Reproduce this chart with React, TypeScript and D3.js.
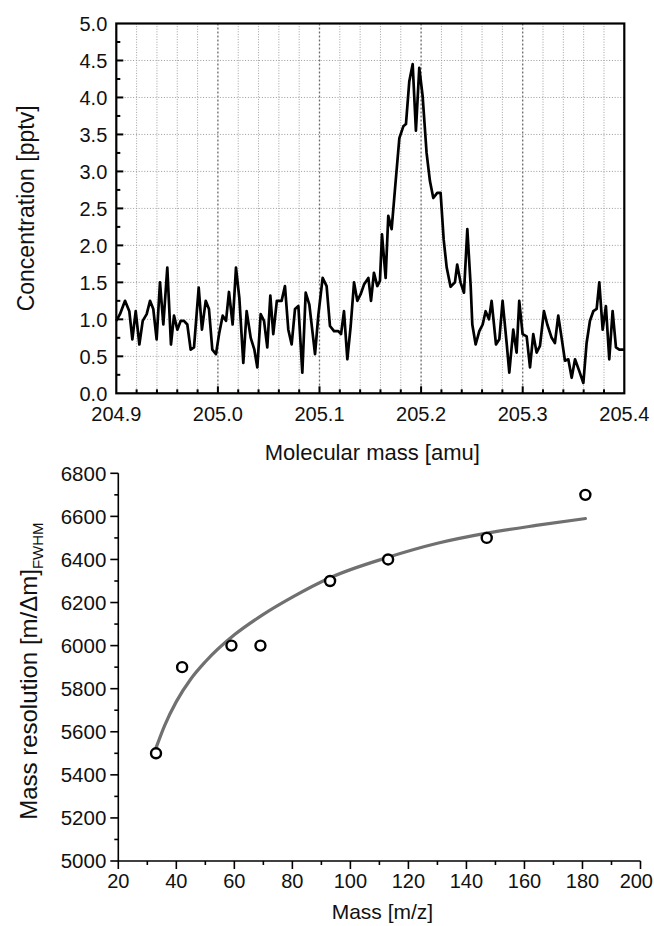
import React from "react";
import * as d3 from "d3";

// ---------- Top chart data (Molecular mass vs concentration) ----------
const massValues: number[] = [
  204.9, 204.9036, 204.9086, 204.9128, 204.9158, 204.9191, 204.9227, 204.926, 204.9299, 204.9332,
  204.9364, 204.9397, 204.943, 204.9463, 204.9502, 204.9538, 204.9568, 204.9601, 204.9634, 204.9666,
  204.9699, 204.9732, 204.9765, 204.9811, 204.9843, 204.988, 204.9912, 204.9945, 204.9981, 205.0014,
  205.0047, 205.008, 205.0109, 205.0145, 205.0178, 205.0211, 205.025, 205.0283, 205.0323, 205.0359,
  205.0388, 205.0421, 205.0454, 205.0486, 205.0516, 205.0545, 205.058, 205.0627, 205.066, 205.0693,
  205.0726, 205.0759, 205.0792, 205.0831, 205.0864, 205.09, 205.0956, 205.0988, 205.1031, 205.107,
  205.1103, 205.1143, 205.1185, 205.1212, 205.1241, 205.1274, 205.1307, 205.134, 205.1372, 205.1405,
  205.1438, 205.1481, 205.1507, 205.1536, 205.1569, 205.1595, 205.1615, 205.1651, 205.1677, 205.171,
  205.1743, 205.1786, 205.1825, 205.1851, 205.1884, 205.1917, 205.1949, 205.1982, 205.2015, 205.2054,
  205.2087, 205.212, 205.2159, 205.2192, 205.2222, 205.2252, 205.229, 205.2333, 205.2355, 205.2388,
  205.2422, 205.2455, 205.2488, 205.2504, 205.2537, 205.2573, 205.2606, 205.2635, 205.2668, 205.2694,
  205.2737, 205.277, 205.2802, 205.2842, 205.2868, 205.2907, 205.294, 205.2966, 205.2999, 205.3039,
  205.3072, 205.3104, 205.3137, 205.317, 205.3209, 205.3242, 205.3285, 205.3317, 205.335, 205.3383,
  205.3416, 205.3449, 205.3482, 205.3515, 205.3557, 205.3597, 205.3629, 205.3662, 205.3695, 205.3728,
  205.3754, 205.3787, 205.3819, 205.3852, 205.3885, 205.3918, 205.3951, 205.4,
];
const concValues: number[] = [
  0.98, 1.07, 1.25, 1.11, 0.73, 1.11, 0.66, 0.98, 1.07, 1.25,
  1.14, 0.73, 1.5, 0.93, 1.7, 0.66, 1.05, 0.86, 0.98, 0.98,
  0.93, 0.59, 0.62, 1.43, 0.86, 1.25, 1.14, 0.59, 0.53, 0.82,
  1.05, 0.98, 1.37, 0.93, 1.7, 1.29, 0.41, 1.11, 0.75, 0.59,
  0.35, 1.07, 0.98, 0.62, 1.32, 0.8, 1.25, 1.25, 1.45, 0.86,
  0.66, 1.14, 1.18, 0.28, 1.36, 1.2, 0.53, 1.05, 1.56, 1.45,
  0.91, 0.84, 0.84, 0.8, 1.11, 0.46, 0.91, 1.5, 1.25, 1.34,
  1.47, 1.56, 1.25, 1.63, 1.45, 1.52, 2.15, 1.56, 2.4, 2.22,
  2.76, 3.45, 3.61, 3.64, 4.22, 4.45, 3.55, 4.4, 4.02, 3.25,
  2.87, 2.64, 2.71, 2.71, 2.08, 1.7, 1.44, 1.5, 1.74, 1.5,
  1.36, 2.22, 1.45, 0.93, 0.66, 0.84, 0.93, 1.11, 1.0, 1.25,
  0.66, 0.73, 1.25, 0.68, 0.28, 0.86, 0.55, 1.25, 0.8, 0.77,
  0.35, 0.8, 0.55, 0.64, 1.11, 0.93, 0.75, 0.68, 1.05, 0.75,
  0.44, 0.46, 0.21, 0.46, 0.3, 0.14, 0.68, 0.98, 1.11, 1.14,
  1.5, 0.86, 1.18, 0.46, 1.11, 0.62, 0.59, 0.59,
];
const topXTicks: number[] = [204.9, 205.0, 205.1, 205.2, 205.3, 205.4];
const topYTicks: number[] = [0, 0.5, 1, 1.5, 2, 2.5, 3, 3.5, 4, 4.5, 5];

// ---------- Bottom chart data (Mass vs resolution) ----------
const pointMass: number[] = [33, 42, 59, 69, 93, 113, 147, 181];
const pointResolution: number[] = [5500, 5900, 6000, 6000, 6300, 6400, 6500, 6700];
const fitMass: number[] = [33, 36, 40, 45, 50, 60, 70, 80, 93, 113, 130, 147, 164, 181];
const fitResolution: number[] = [5525, 5630, 5740, 5845, 5925, 6050, 6145, 6225, 6315, 6410, 6475, 6522, 6558, 6590];
const botXTicks: number[] = [20, 40, 60, 80, 100, 120, 140, 160, 180, 200];
const botYTicks: number[] = [5000, 5200, 5400, 5600, 5800, 6000, 6200, 6400, 6600, 6800];

const FONT = "'Liberation Sans', Arial, Helvetica, sans-serif";

function isMultiple(v: number, base: number, step: number) {
  const k = (v - base) / step;
  return Math.abs(k - Math.round(k)) < 1e-6;
}

function TopChart() {
  const x = d3.scaleLinear().domain([204.9, 205.4]).range([116.3, 624.3]);
  const y = d3.scaleLinear().domain([0, 5]).range([393.3, 23.5]);
  const pts = massValues.map((m, i) => [m, concValues[i]] as [number, number]);
  const line = d3.line<[number, number]>().x((d) => x(d[0])).y((d) => y(d[1]));
  const minorX = d3.range(1, 25).map((i) => 204.9 + i * 0.02);
  const minorY = d3.range(1, 20).map((i) => i * 0.25);
  const [x0, x1] = x.range();
  const [y0, y1] = y.range();
  return (
    <g>
      {minorX.map((m, i) => {
        const major = isMultiple(m, 204.9, 0.1);
        return (
          <line key={"vg" + i} x1={x(m)} x2={x(m)} y1={y1} y2={y0}
            stroke={major ? "#6a6a6a" : "#a0a0a0"} strokeWidth={major ? 1.3 : 1}
            strokeDasharray={major ? "2,2" : "1,1.6"} />
        );
      })}
      {topYTicks.slice(1, -1).map((v, i) => (
        <line key={"hg" + i} x1={x0} x2={x1} y1={y(v)} y2={y(v)} stroke="#9a9a9a" strokeWidth={1} strokeDasharray="1,1.8" />
      ))}
      {minorY.map((v, i) => {
        const major = isMultiple(v, 0, 0.5);
        return <line key={"yt" + i} x1={x0} x2={x0 + (major ? 7 : 4)} y1={y(v)} y2={y(v)} stroke="#000" strokeWidth={2} />;
      })}
      {minorX.map((m, i) => {
        const major = isMultiple(m, 204.9, 0.1);
        return <line key={"xt" + i} x1={x(m)} x2={x(m)} y1={y0} y2={y0 - (major ? 7 : 4)} stroke="#000" strokeWidth={2} />;
      })}
      <path d={line(pts) || ""} fill="none" stroke="#000" strokeWidth={2.7} strokeLinejoin="round" />
      <rect x={x0} y={y1} width={x1 - x0} height={y0 - y1} fill="none" stroke="#000" strokeWidth={2.2} />
      {topYTicks.map((v, i) => (
        <text key={"yl" + i} x={x0 - 9} y={y(v)} dy="0.36em" textAnchor="end" fontSize={20} fontFamily={FONT} fill="#111">
          {v.toFixed(1)}
        </text>
      ))}
      {topXTicks.map((m, i) => (
        <text key={"xl" + i} x={x(m)} y={421} textAnchor="middle" fontSize={20} fontFamily={FONT} fill="#111">
          {m.toFixed(1)}
        </text>
      ))}
      <text x={(x0 + x1) / 2 + 2} y={460} textAnchor="middle" fontSize={22} fontFamily={FONT} fill="#111">
        Molecular mass [amu]
      </text>
      <text transform={`translate(34,${(y0 + y1) / 2}) rotate(-90)`} textAnchor="middle" fontSize={23} fontFamily={FONT} fill="#111">
        Concentration [pptv]
      </text>
    </g>
  );
}

function BottomChart() {
  const x = d3.scaleLinear().domain([20, 200]).range([118.3, 640.5]);
  const y = d3.scaleLinear().domain([5000, 6800]).range([861, 473.3]);
  const [x0, x1] = x.range();
  const [y0, y1] = y.range();
  const fitPts = fitMass.map((m, i) => [m, fitResolution[i]] as [number, number]);
  const fitLine = d3.line<[number, number]>().x((d) => x(d[0])).y((d) => y(d[1])).curve(d3.curveMonotoneX);
  const xMinor = d3.range(30, 200, 20);
  const yMinor = d3.range(5100, 6800, 200);
  const lastX = botXTicks[botXTicks.length - 1];
  return (
    <g>
      <line x1={x0} x2={x0} y1={y0} y2={y1} stroke="#000" strokeWidth={1.6} />
      <line x1={x0} x2={x1} y1={y0} y2={y0} stroke="#000" strokeWidth={1.6} />
      {botYTicks.map((v, i) => (
        <line key={"ytm" + i} x1={x0 - 8} x2={x0} y1={y(v)} y2={y(v)} stroke="#000" strokeWidth={1.6} />
      ))}
      {yMinor.map((v, i) => (
        <line key={"ytn" + i} x1={x0 - 4} x2={x0} y1={y(v)} y2={y(v)} stroke="#000" strokeWidth={1.6} />
      ))}
      {botXTicks.map((v, i) => (
        <line key={"xtm" + i} x1={x(v)} x2={x(v)} y1={y0} y2={y0 + 8} stroke="#000" strokeWidth={1.6} />
      ))}
      {xMinor.map((v, i) => (
        <line key={"xtn" + i} x1={x(v)} x2={x(v)} y1={y0} y2={y0 + 4} stroke="#000" strokeWidth={1.6} />
      ))}
      <path d={fitLine(fitPts) || ""} fill="none" stroke="#707070" strokeWidth={3.2} strokeLinecap="round" />
      {pointMass.map((m, i) => (
        <circle key={"p" + i} cx={x(m)} cy={y(pointResolution[i])} r={5} fill="#fff" stroke="#000" strokeWidth={2.4} />
      ))}
      {botYTicks.map((v, i) => (
        <text key={"yl" + i} x={x0 - 12} y={y(v)} dy="0.36em" textAnchor="end" fontSize={20.5} fontFamily={FONT} fill="#111">
          {v}
        </text>
      ))}
      {botXTicks.map((v, i) => (
        <text key={"xl" + i} x={v === lastX ? 653 : x(v)} y={888} textAnchor={v === lastX ? "end" : "middle"}
          fontSize={20} fontFamily={FONT} fill="#111">
          {v}
        </text>
      ))}
      <text x={(x0 + x1) / 2 + 3} y={919} textAnchor="middle" fontSize={21} fontFamily={FONT} fill="#111">
        Mass [m/z]
      </text>
      <text transform={`translate(37,${(y0 + y1) / 2 + 4}) rotate(-90)`} textAnchor="middle" fontSize={24} fontFamily={FONT} fill="#111">
        Mass resolution [m/Δm]
        <tspan fontSize={15} dy={6}>FWHM</tspan>
      </text>
    </g>
  );
}

export default function App() {
  return (
    <svg width={654} height={926} viewBox="0 0 654 926"
      style={{ position: "absolute", left: 0, top: 0, background: "#fff", display: "block" }}>
      <rect x={0} y={0} width={654} height={926} fill="#fff" />
      <TopChart />
      <BottomChart />
    </svg>
  );
}
